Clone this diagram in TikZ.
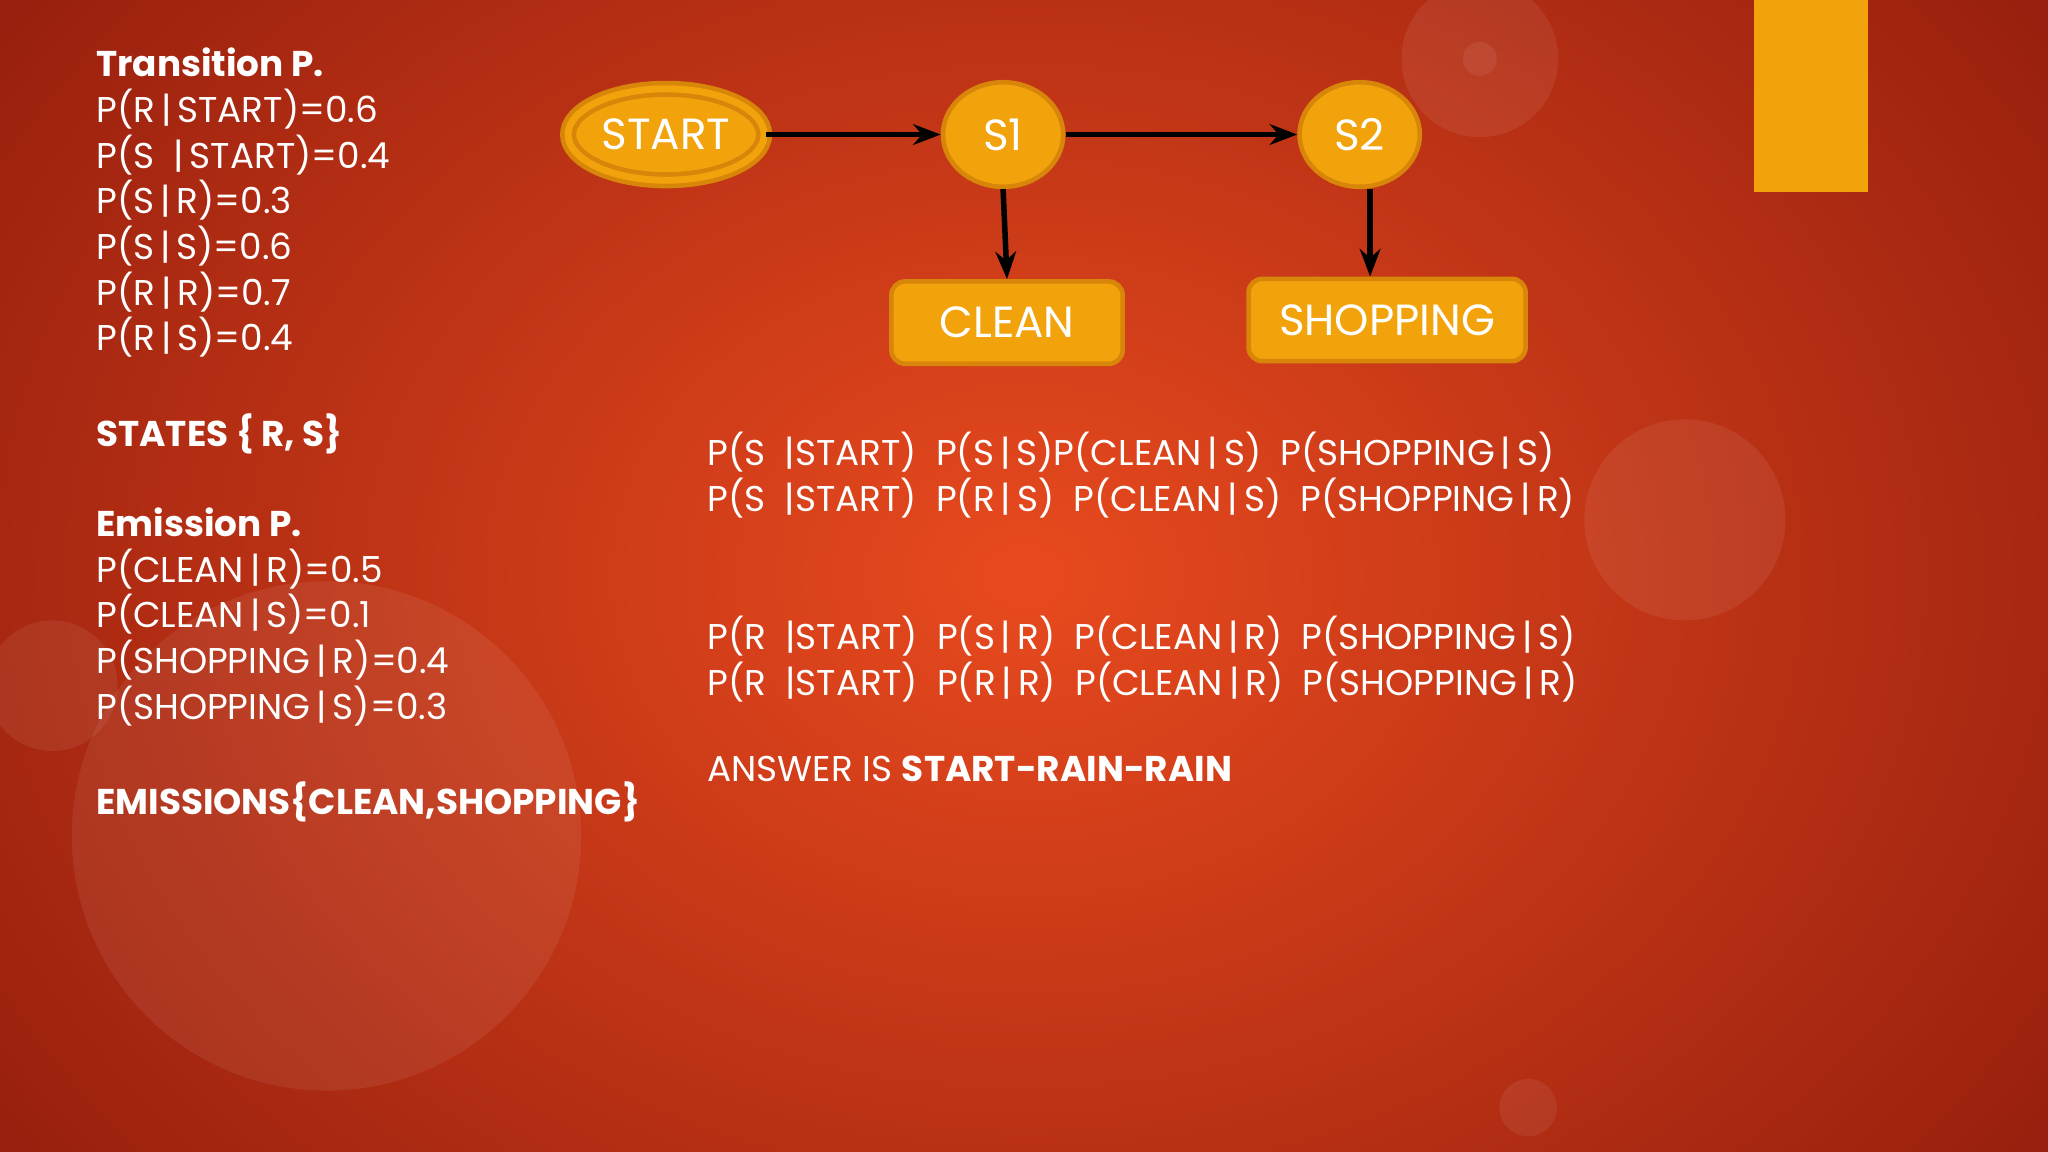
\documentclass[tikz,border=0pt]{standalone}
\usepackage{fontspec}
\setmainfont{Poppins}
\usetikzlibrary{shapes.geometric,arrows.meta}
\definecolor{bgin}{HTML}{E84A1E}
\definecolor{bgout}{HTML}{8E1A0C}
\definecolor{gold}{HTML}{F2A30C}
\definecolor{goldd}{HTML}{D8860A}
\tikzset{
 st/.style={fill=gold,draw=goldd,line width=1pt,text=white,font=\fontsize{9.5}{11}\selectfont,inner sep=0pt},
 ar/.style={-{Stealth[length=6pt]},line width=1.2pt,black},
 txt/.style={anchor=north west,text=white,align=left,inner sep=0pt,font=\fontsize{7.8}{9.95}\selectfont},
 bub/.style={fill=white,fill opacity=0.07,draw=none}
}
\begin{document}
\begin{tikzpicture}[x=0.01cm,y=-0.01cm]
\useasboundingbox (0,0) rectangle (1568,882);
\shade[inner color=bgin,outer color=bgout] (-300,-400) rectangle (1868,1282);
\clip (0,0) rectangle (1568,882);
\fill[bub] (250,640) circle (195);
\fill[bub] (1290,398) circle (77);
\fill[bub] (1133,45) circle (60);
\fill[bub] (1133,45) circle (13);
\fill[bub] (1170,848) circle (22);
\fill[bub] (40,525) circle (50);
\fill[gold] (1343,0) rectangle (1430,147);
\node[st,ellipse,double=gold,double distance=1.5pt,minimum width=1.5cm,minimum height=0.7cm] (start) at (510,103) {START};
\node[st,ellipse,minimum width=0.92cm,minimum height=0.8cm] (s1) at (768,103) {S1};
\node[st,ellipse,minimum width=0.92cm,minimum height=0.8cm] (s2) at (1041,103) {S2};
\node[st,rectangle,rounded corners=3pt,minimum width=1.77cm,minimum height=0.63cm] (clean) at (771,247) {CLEAN};
\node[st,rectangle,rounded corners=3pt,minimum width=2.12cm,minimum height=0.63cm] (shop) at (1062,245) {SHOPPING};
\coordinate (s2b) at ([xshift=0.08cm]s2.south);
\draw[ar] (start.east) -- (s1.west);
\draw[ar] (s1.east) -- (s2.west);
\draw[ar] (s1.south) -- (clean.north);
\draw[ar] (s2b) -- (s2b |- shop.north);
\node[txt] (t1) at (73,36) {\textbf{Transition P.}\\
P(R\,|\,START)=0.6\\
P(S \ |\,START)=0.4\\
P(S\,|\,R)=0.3\\
P(S\,|\,S)=0.6\\
P(R\,|\,R)=0.7\\
P(R\,|\,S)=0.4};
\node[txt] (t2) at (73,316) {\textbf{STATES \{ R, S\}}};
\node[txt] (t3) at (73,388) {\textbf{Emission P.}\\
P(CLEAN\,|\,R)=0.5\\
P(CLEAN\,|\,S)=0.1\\
P(SHOPPING\,|\,R)=0.4\\
P(SHOPPING\,|\,S)=0.3};
\node[txt] (t4) at (73,598) {\textbf{EMISSIONS\{CLEAN,SHOPPING\}}};
\node[txt] (a) at (541,330) {P(S \ |START) \ P(S\,|\,S)P(CLEAN\,|\,S) \ P(SHOPPING\,|\,S)\\
P(S \ |START) \ P(R\,|\,S) \ P(CLEAN\,|\,S) \ P(SHOPPING\,|\,R)};
\node[txt] (b) at (541,471) {P(R \ |START) \ P(S\,|\,R) \ P(CLEAN\,|\,R) \ P(SHOPPING\,|\,S)\\
P(R \ |START) \ P(R\,|\,R) \ P(CLEAN\,|\,R) \ P(SHOPPING\,|\,R)};
\node[txt] (c) at (541,578) {ANSWER IS \textbf{START-RAIN-RAIN}};
\end{tikzpicture}
\end{document}
